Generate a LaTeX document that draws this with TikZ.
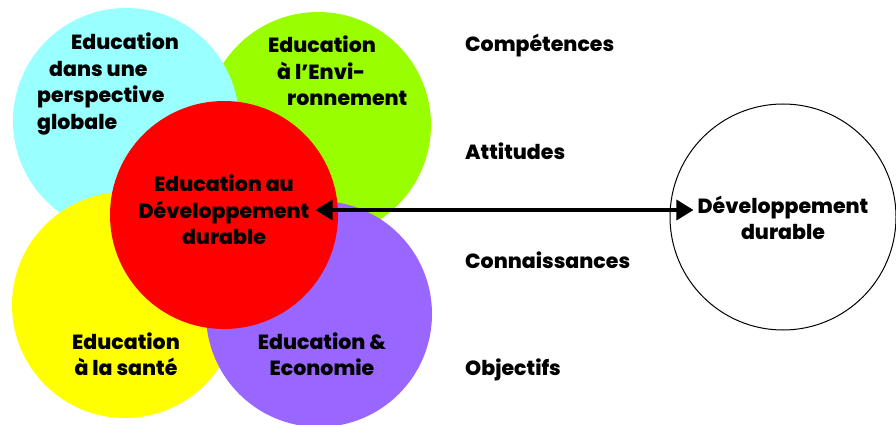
\documentclass[tikz,border=0pt]{standalone}
\usepackage{fontspec}
\setmainfont{Poppins}[BoldFont={Poppins ExtraBold}]
\usepackage{tikz}
\usetikzlibrary{arrows.meta}
\definecolor{globalcyan}{RGB}{153,255,255}
\definecolor{envgreen}{RGB}{153,255,0}
\definecolor{eddred}{RGB}{255,0,0}
\definecolor{santeyellow}{RGB}{255,255,0}
\definecolor{ecopurple}{RGB}{153,102,255}

\begin{document}
\begin{tikzpicture}[x=1pt, y=-1pt]
    \tikzstyle{disc} = [circle, draw=none, minimum size=226pt, inner sep=0pt]
    \tikzstyle{label} = [font=\fontsize{20.5pt}{26.5pt}\selectfont\bfseries, inner sep=0pt]
    \tikzstyle{item} = [font=\fontsize{20.5pt}{26.5pt}\selectfont\bfseries, inner sep=0pt, anchor=base west]

    \useasboundingbox (0,0) rectangle (896,425);

    % Circles
    \node [disc, fill=envgreen] (environnement) at (318,125) {};
    \node [disc, fill=globalcyan] (globale) at (126,121) {};
    \node [disc, fill=santeyellow] (sante) at (125,305) {};
    \node [disc, fill=ecopurple] (economie) at (319,314) {};
    \node [disc, fill=eddred, minimum size=228pt] (edd) at (224,215) {};
    \node [disc, draw=black, line width=1pt, fill=white] (dd) at (783,217) {};

    % Texts in the circles
    \node [label, align=left, anchor=west] (globale_txt) at (37,84)
        {\hspace*{34pt}Education\\\hspace*{12pt}dans une\\perspective\\globale};
    \node [label, align=left, anchor=west] (environnement_txt) at (268,71)
        {Education\\\hspace*{9pt}à l’Envi-\\\hspace*{19pt}ronnement};
    \node [label, align=center] (edd_txt) at (224,210) {Education au\\Développement\\durable};
    \node [label, align=center] (sante_txt) at (126,354) {Education\\à la santé};
    \node [label, align=center] (economie_txt) at (322,354) {Education \&\\Economie};
    \node [label, align=center] (dd_txt) at (783,218) {Développement\\durable};

    % Column
    \node [item] (competences) at (465,52) {Compétences};
    \node [item] (attitudes) at (465,159) {Attitudes};
    \node [item] (connaissances) at (465,268) {Connaissances};
    \node [item] (objectifs) at (465,375) {Objectifs};

    % Arrow
    \draw [{Triangle[length=17pt,width=20pt]}-{Triangle[length=17pt,width=20pt]}, line width=3.5pt]
        ([xshift=6pt]edd_txt.east) -- ([xshift=-4pt]edd_txt.east -| dd_txt.west);
\end{tikzpicture}
\end{document}
